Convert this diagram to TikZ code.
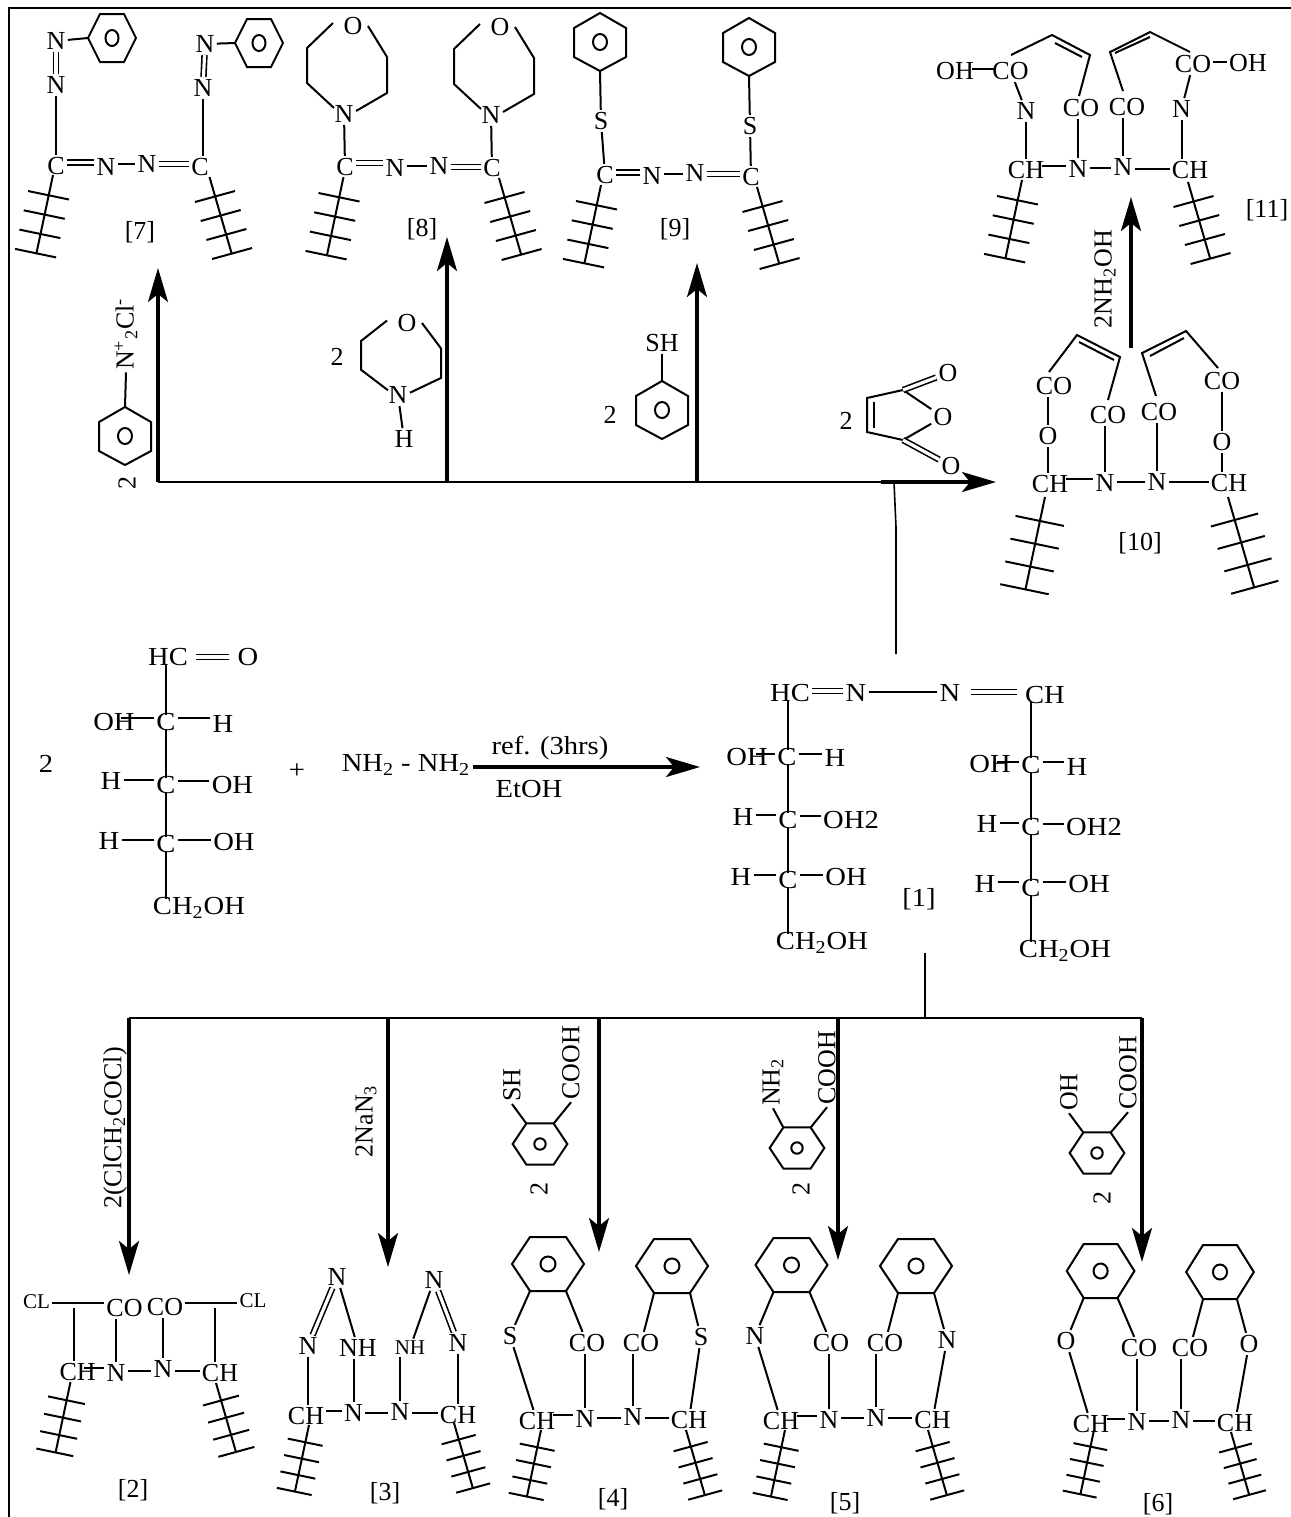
\documentclass[tikz,border=0pt]{standalone}
\usepackage{fontspec}
\setmainfont{Liberation Serif}
\newfontfamily\widefont[FakeStretch=1.1]{Liberation Serif}
\usetikzlibrary{arrows.meta}

\newcommand{\hb}[4][bond]{\draw[#1] (#2.east |- 0,#4) -- (#3.west |- 0,#4);}

\tikzset{
    atom/.style={inner sep=1pt,font=\fontsize{13}{15}\selectfont},
    wide/.style={inner sep=1pt,font=\widefont\fontsize{13}{15}\selectfont},
    small/.style={inner sep=1pt,font=\fontsize{10.5}{12}\selectfont},
    bond/.style={line width=1pt},
    vb/.style={line width=1pt,shorten <=-2pt,shorten >=-2pt},
    into/.style={line width=1pt,shorten <=-2pt},
    dbl/.style={line width=0.8pt,double,double distance=1.6pt},
    feed/.style={line width=1pt},
    react/.style={line width=1.6pt,-{Stealth[length=17pt,width=10pt,inset=4pt]}},
    chainleft/.pic={
        \draw[bond] (0,0) -- (-16.5,78);
        \foreach \i in {0,1,2,3} \draw[bond] ({-25-4.3*\i},{16+19.3*\i}) -- ++(41,8.5);
    },
    chainright/.pic={
        \draw[bond] (0,0) -- (22,76);
        \foreach \i in {0,1,2,3} \draw[bond] ({-14.5+5.7*\i},{25+19*\i}) -- ++(40,-11);
    },
    ringtop/.pic={
        \draw[bond] (-24,0) coordinate (l) -- (-12,-24) -- (12,-24) -- (24,0) -- (12,24) -- (-12,24) -- cycle;
        \draw[bond] (0,0) ellipse [x radius=6.5,y radius=8];
    },
    ringpoint/.pic={
        \draw[bond] (0,-29) coordinate (t) -- (26,-14) -- (26,15) -- (0,29) coordinate (b) -- (-26,15) -- (-26,-14) -- cycle;
        \draw[bond] (0,0) ellipse [x radius=7,y radius=8];
    },
    ringflat/.pic={
        \draw[bond] (-36,0) -- (-18,-27) -- (18,-27) -- (36,0) -- (18,27) coordinate (br) -- (-18,27) coordinate (bl) -- cycle;
        \draw[bond] (0,0) circle (7.5);
        \coordinate (tl) at (-18,-27);
        \coordinate (tr) at (18,-27);
    },
    morph/.pic={
        \node[atom] (O) at (0,0) {O};
        \node[atom] (N) at (-9,88) {N};
        \draw[bond] (-20,-3) -- (-46,22) -- (-46,57) -- (-19,82);
        \draw[bond] (15,0) -- (34,31) -- (34,67) -- (3,85);
    },
}

\begin{document}
\begin{tikzpicture}[x=0.5pt,y=-0.5pt]
    \useasboundingbox (0,0) rectangle (1291,1517);
    \draw[feed] (9,1517) -- (9,8) -- (1291,8);

    % compound 7
    \node[atom] (N7c) at (56,41) {N};
    \node[atom] (N7d) at (56,85) {N};
    \node[atom] (C7a) at (56,166) {C};
    \node[atom] (N7a) at (106,167) {N};
    \node[atom] (N7b) at (147,164) {N};
    \node[atom] (C7b) at (200,167) {C};
    \node[atom] (N7e) at (205,44) {N};
    \node[atom] (N7f) at (203,88) {N};
    \node[atom] (tag7) at (140,232) {[7]};
    \pic (r7a) at (112,38) {ringtop};
    \pic (r7b) at (259,43) {ringtop};
    \pic (c7a) at (53,175) {chainleft};
    \pic (c7b) at (209.5,177) {chainright};
    \draw[bond] (N7c) -- (r7al);
    \draw[dbl] (N7c) -- (N7d);
    \draw[bond] (N7d) -- (N7d |- C7a.north);
    \hb[dbl]{C7a}{N7a}{162.5}
    \hb{N7a}{N7b}{164}
    \hb[dbl]{N7b}{C7b}{164}
    \draw[bond] (N7e) -- (r7bl);
    \draw[dbl] (N7e) -- (N7f);
    \draw[bond] (N7f) -- (N7f |- C7b.north);

    % compound 8
    \pic (m8a) at (353,26) {morph};
    \pic (m8b) at (500,27) {morph};
    \node[atom] (C8a) at (345,167) {C};
    \node[atom] (N8a) at (395,168) {N};
    \node[atom] (N8b) at (439,166) {N};
    \node[atom] (C8b) at (492,168) {C};
    \node[atom] (tag8) at (422,229) {[8]};
    \pic (c8a) at (343.5,177) {chainleft};
    \pic (c8b) at (499,178) {chainright};
    \draw[bond] (m8aN) -- (C8a);
    \draw[bond] (m8bN) -- (C8b);
    \hb[dbl]{C8a}{N8a}{163}
    \hb{N8a}{N8b}{166}
    \hb[dbl]{N8b}{C8b}{167}

    % compound 9
    \pic (r9a) at (600,42) {ringpoint};
    \pic (r9b) at (749,47) {ringpoint};
    \node[atom] (S9a) at (601,121) {S};
    \node[atom] (S9b) at (750,126) {S};
    \node[atom] (C9a) at (605,175) {C};
    \node[atom] (N9a) at (652,176) {N};
    \node[atom] (N9b) at (695,173) {N};
    \node[atom] (C9b) at (751,177) {C};
    \node[atom] (tag9) at (675,229) {[9]};
    \pic (c9a) at (601,185) {chainleft};
    \pic (c9b) at (757,187) {chainright};
    \draw[bond] (r9ab) -- (S9a);
    \draw[bond] (r9bb) -- (S9b);
    \draw[bond] (S9a) -- (C9a);
    \draw[bond] (S9b) -- (C9b);
    \hb[dbl]{C9a}{N9a}{172.5}
    \hb{N9a}{N9b}{174}
    \hb[dbl]{N9b}{C9b}{174}

    % compound 11
    \node[atom] (OH11a) at (955,71) {OH};
    \node[atom] (CO11a) at (1010.5,71) {CO};
    \node[atom] (N11a) at (1026,111) {N};
    \node[atom] (CO11b) at (1081,108) {CO};
    \node[atom] (CO11c) at (1127,107) {CO};
    \node[atom] (N11d) at (1181.5,109) {N};
    \node[atom] (CO11d) at (1193,64) {CO};
    \node[atom] (OH11d) at (1248,63) {OH};
    \node[atom] (CH11a) at (1026,170) {CH};
    \node[atom] (N11b) at (1078,169) {N};
    \node[atom] (N11c) at (1123,167) {N};
    \node[atom] (CH11b) at (1190,170) {CH};
    \node[atom] (tag11) at (1267,210) {[11]};
    \pic (c11a) at (1022,180) {chainleft};
    \pic (c11b) at (1188,182) {chainright};
    \hb[vb]{OH11a}{CO11a}{69}
    \hb{CO11d}{OH11d}{62}
    \draw[bond] (CO11a) -- (N11a);
    \draw[bond] (CO11d) -- (N11d);
    \draw[bond] (N11a) -- (N11a |- CH11a.north);
    \draw[bond] (N11d) -- (N11d |- CH11b.north);
    \draw[bond] (N11b) -- (N11b |- CO11b.south);
    \draw[bond] (N11c) -- (N11c |- CO11c.south);
    \hb[into]{CH11a}{N11b}{166}
    \hb{N11b}{N11c}{168}
    \hb{N11c}{CH11b}{169}
    \draw[bond] (1011,55) -- (1052,35) -- (1090,55) -- (1079,96);
    \draw[bond] (1055,43) -- (1082,57);
    \draw[bond] (1190,52) -- (1150,32) -- (1110,52) -- (1123,91);
    \draw[bond] (1115,53) -- (1150,37);

    % compound 10
    \node[atom] (CO10a) at (1054,386) {CO};
    \node[atom] (O10a) at (1048,436) {O};
    \node[atom] (CO10b) at (1108,415) {CO};
    \node[atom] (CO10c) at (1159,412) {CO};
    \node[atom] (CO10d) at (1222,381) {CO};
    \node[atom] (O10d) at (1222,442) {O};
    \node[atom] (CH10a) at (1050,484) {CH};
    \node[atom] (N10a) at (1105,483) {N};
    \node[atom] (N10b) at (1157,482) {N};
    \node[atom] (CH10b) at (1229,483) {CH};
    \node[atom] (tag10) at (1140,543) {[10]};
    \pic[scale=1.18] (c10a) at (1045,497) {chainleft};
    \pic[scale=1.18] (c10b) at (1228,497) {chainright};
    \draw[bond] (CO10a.south -| O10a) -- (O10a);
    \draw[bond] (O10a) -- (O10a |- CH10a.north);
    \draw[bond] (CO10d.south -| O10d) -- (O10d);
    \draw[bond] (O10d) -- (O10d |- CH10b.north);
    \draw[bond] (N10a) -- (N10a |- CO10b.south);
    \draw[bond] (N10b) -- (N10b |- CO10c.south);
    \hb[into]{CH10a}{N10a}{479}
    \hb{N10a}{N10b}{482}
    \hb{N10b}{CH10b}{482}
    \draw[bond] (1049,372) -- (1077,335) -- (1120,357) -- (1108,400);
    \draw[bond] (1079,342) -- (1114,360);
    \draw[bond] (1218,368) -- (1186,331) -- (1142,353) -- (1156,396);
    \draw[bond] (1150,356) -- (1184,338);

    % reagents of the upper row
    \node[atom,rotate=90] (two7) at (127,483) {2};
    \pic (r7z) at (125,436) {ringpoint};
    \node[atom,rotate=90] (diazo) at (126,334) {N\textsuperscript{+}\textsubscript{2}Cl\textsuperscript{-}};
    \draw[bond] (r7zt) -- (diazo.west);
    \node[atom] (two8) at (337,357) {2};
    \pic[yscale=.82] (m8z) at (407,323) {morph};
    \node[atom] (H8) at (404,439) {H};
    \draw[bond] (m8zN) -- (H8);
    \node[atom] (two9) at (610,415) {2};
    \pic (r9z) at (662,410) {ringpoint};
    \node[atom] (SH9) at (662,343) {SH};
    \draw[bond] (r9zt) -- (SH9);
    \node[atom] (two10) at (846,421) {2};
    \node[atom] (O10x) at (948,373) {O};
    \node[atom] (O10y) at (943,417) {O};
    \node[atom] (O10z) at (951,466) {O};
    \coordinate (Ca10) at (903,390);
    \coordinate (Cb10) at (903,440);
    \draw[bond] (Ca10) -- (867,398) -- (867,432) -- (Cb10);
    \draw[bond] (874,402) -- (874,428);
    \draw[bond] (Ca10) -- (O10y);
    \draw[bond] (Cb10) -- (O10y);
    \draw[dbl] (Ca10) -- (O10x);
    \draw[dbl] (Cb10) -- (O10z);
    \node[atom,rotate=90] (NH2OH) at (1105,279) {2NH\textsubscript{2}OH};

    % arrows of the upper row
    \coordinate (j7) at (158,482);
    \coordinate (j8) at (447,482);
    \coordinate (j9) at (697,482);
    \coordinate (j10) at (881,482);
    \coordinate (t7) at (158,268);
    \coordinate (t8) at (447,237);
    \coordinate (t9) at (697,263);
    \coordinate (t10) at (996,482);
    \coordinate (b11) at (1131,348);
    \coordinate (t11) at (1131,197);
    \coordinate (u1) at (894,482);
    \coordinate (u2) at (896,527);
    \coordinate (u3) at (896,654);
    \draw[feed] (j7) -- (j10);
    \draw[react] (j7) -- (t7);
    \draw[react] (j8) -- (t8);
    \draw[react] (j9) -- (t9);
    \draw[react] (j10) -- (t10);
    \draw[react] (b11) -- (t11);
    \draw[feed,line width=0.8pt] (u1) -- (u2) -- (u3);

    % starting sugar
    \node[wide] (two0) at (46,764) {2};
    \node[wide] (HC0) at (168,657) {HC};
    \node[wide] (O0) at (248,657) {O};
    \node[wide] (OH0a) at (114,722) {OH};
    \node[wide] (C0a) at (166,722) {C};
    \node[wide] (H0a) at (223,724) {H};
    \node[wide] (H0b) at (111,781) {H};
    \node[wide] (C0b) at (166,785) {C};
    \node[wide] (OH0b) at (232.5,785) {OH};
    \node[wide] (H0c) at (109,841) {H};
    \node[wide] (C0c) at (166,844) {C};
    \node[wide] (OH0c) at (234,842) {OH};
    \node[wide] (CH0) at (199,908) {CH\textsubscript{2}OH};
    \hb[dbl,shorten <=3pt,shorten >=3pt]{HC0}{O0}{657}
    \draw[vb] (HC0.south -| C0a) -- (C0a);
    \draw[vb] (C0a) -- (C0b);
    \draw[vb] (C0b) -- (C0c);
    \draw[vb] (C0c) -- (C0c |- CH0.north);
    \hb[bond,shorten <=-8pt]{OH0a}{C0a}{718}
    \hb{C0a}{H0a}{718}
    \hb{H0b}{C0b}{780}
    \hb{C0b}{OH0b}{781}
    \hb{H0c}{C0c}{840}
    \hb{C0c}{OH0c}{840}

    % hydrazine and conditions
    \node[wide] (plus) at (297,771) {+};
    \node[wide] (NN) at (406,765) {NH\textsubscript{2} - NH\textsubscript{2}};
    \node[wide] (ref) at (550,748) {ref. (3hrs)};
    \node[wide] (EtOH) at (529,789) {EtOH};
    \coordinate (t1) at (700,767);
    \draw[react] (NN.east |- t1) -- (t1);

    % compound 1
    \node[wide] (HC1) at (790,693) {HC};
    \node[wide] (N1a) at (856,693) {N};
    \node[wide] (N1b) at (950,693) {N};
    \node[wide] (CH1) at (1045,695) {CH};
    \hb[dbl]{HC1}{N1a}{691}
    \hb{N1a}{N1b}{692}
    \hb[dbl,shorten <=4pt,shorten >=3pt]{N1b}{CH1}{692}
    \node[wide] (OH1a) at (747,757) {OH};
    \node[wide] (C1a) at (787,757) {C};
    \node[wide] (H1a) at (835,758) {H};
    \node[wide] (H1b) at (743,817) {H};
    \node[wide] (C1b) at (788,820) {C};
    \node[wide] (OH1b) at (851,820) {OH2};
    \node[wide] (H1c) at (741,877) {H};
    \node[wide] (C1c) at (788,880) {C};
    \node[wide] (OH1c) at (846,877) {OH};
    \node[wide] (CH1a) at (822,943) {CH\textsubscript{2}OH};
    \draw[vb] (HC1.south -| C1b) -- (C1b |- C1a.north);
    \draw[vb] (C1a.south -| C1b) -- (C1b);
    \draw[vb] (C1b) -- (C1c);
    \draw[vb] (C1c) -- (C1c |- CH1a.north);
    \hb[bond,shorten <=-7pt]{OH1a}{C1a}{754}
    \hb{C1a}{H1a}{754}
    \hb{H1b}{C1b}{815}
    \hb{C1b}{OH1b}{816}
    \hb{H1c}{C1c}{875}
    \hb{C1c}{OH1c}{875}
    \node[wide] (OH1d) at (990,764) {OH};
    \node[wide] (C1d) at (1031,765) {C};
    \node[wide] (H1d) at (1077,767) {H};
    \node[wide] (H1e) at (987,824) {H};
    \node[wide] (C1e) at (1031,827) {C};
    \node[wide] (OH1e) at (1094,827) {OH2};
    \node[wide] (H1f) at (985,884) {H};
    \node[wide] (C1f) at (1031,888) {C};
    \node[wide] (OH1f) at (1089,884) {OH};
    \node[wide] (CH1b) at (1065,951) {CH\textsubscript{2}OH};
    \node[wide] (tag1) at (919,899) {[1]};
    \draw[vb] (CH1.south -| C1d) -- (C1d);
    \draw[vb] (C1d) -- (C1e);
    \draw[vb] (C1e) -- (C1f);
    \draw[vb] (C1f) -- (C1f |- CH1b.north);
    \hb[bond,shorten <=-8pt]{OH1d}{C1d}{762}
    \hb{C1d}{H1d}{762}
    \hb{H1e}{C1e}{823}
    \hb{C1e}{OH1e}{824}
    \hb{H1f}{C1f}{882}
    \hb{C1f}{OH1f}{882}

    % arrows of the lower row
    \coordinate (d0) at (925,953);
    \coordinate (d1) at (925,1018);
    \coordinate (h2) at (129,1018);
    \coordinate (h3) at (388,1018);
    \coordinate (h4) at (599,1018);
    \coordinate (h5) at (838,1018);
    \coordinate (h6) at (1142,1018);
    \coordinate (t2) at (129,1275);
    \coordinate (t3) at (388,1267);
    \coordinate (t4) at (599,1252);
    \coordinate (t5) at (838,1260);
    \coordinate (t6) at (1142,1262);
    \draw[feed] (d0) -- (d1);
    \draw[feed] (h2) -- (h6);
    \draw[react] (h2) -- (t2);
    \draw[react] (h3) -- (t3);
    \draw[react] (h4) -- (t4);
    \draw[react] (h5) -- (t5);
    \draw[react] (h6) -- (t6);

    % reagents of the lower row
    \node[atom,rotate=90] (r2) at (115,1128) {2(ClCH\textsubscript{2}COCl)};
    \node[atom,rotate=90] (r3) at (366,1121) {2NaN\textsubscript{3}};
    \pic[scale=.76] (r4z) at (540,1144) {ringflat};
    \node[atom,rotate=90] (SH4) at (512,1085) {SH};
    \node[atom,rotate=90] (COOH4) at (571,1063) {COOH};
    \node[atom,rotate=90] (two4) at (539,1189) {2};
    \draw[bond] (r4ztl) -- (SH4.west);
    \draw[bond] (r4ztr) -- (COOH4.west);
    \pic[scale=.76] (r5z) at (797,1148) {ringflat};
    \node[atom,rotate=90] (NH5) at (773,1082) {NH\textsubscript{2}};
    \node[atom,rotate=90] (COOH5) at (827,1068) {COOH};
    \node[atom,rotate=90] (two5) at (801,1189) {2};
    \draw[bond] (r5ztl) -- (NH5.west);
    \draw[bond] (r5ztr) -- (COOH5.west);
    \pic[scale=.76] (r6z) at (1097,1153) {ringflat};
    \node[atom,rotate=90] (OH6) at (1069,1092) {OH};
    \node[atom,rotate=90] (COOH6) at (1128,1073) {COOH};
    \node[atom,rotate=90] (two6) at (1102,1198) {2};
    \draw[bond] (r6ztl) -- (OH6.west);
    \draw[bond] (r6ztr) -- (COOH6.west);

    % compound 2
    \node[small] (CL2a) at (36.5,1302) {CL};
    \node[atom] (CO2a) at (124.5,1308) {CO};
    \node[atom] (CO2b) at (165,1307) {CO};
    \node[small] (CL2b) at (253,1301) {CL};
    \node[atom] (CH2a) at (77.6,1372) {CH};
    \node[atom] (N2a) at (116,1373) {N};
    \node[atom] (N2b) at (163,1369) {N};
    \node[atom] (CH2b) at (220,1373) {CH};
    \node[atom] (tag2) at (133,1490) {[2]};
    \coordinate (x2a) at (73.5,1308);
    \coordinate (x2b) at (215,1308);
    \pic[scale=.9] (c2a) at (70.5,1382) {chainleft};
    \pic[scale=.9] (c2b) at (216,1383) {chainright};
    \hb{CL2a}{CO2a}{1303}
    \hb{CO2b}{CL2b}{1303}
    \draw[bond] (x2a) -- (x2a |- CH2a.north);
    \draw[bond] (x2b) -- (x2b |- CH2b.north);
    \draw[bond] (N2a) -- (N2a |- CO2a.south);
    \draw[bond] (N2b) -- (N2b |- CO2b.south);
    \hb[bond,shorten <=-7pt]{CH2a}{N2a}{1368}
    \hb{N2a}{N2b}{1371}
    \hb{N2b}{CH2b}{1371}

    % compound 3
    \node[atom] (N3a) at (337,1277) {N};
    \node[atom] (N3b) at (434,1280) {N};
    \node[atom] (N3c) at (308,1346) {N};
    \node[atom] (NH3a) at (358,1348) {NH};
    \node[small] (NH3b) at (410,1348) {NH};
    \node[atom] (N3d) at (458,1343) {N};
    \node[atom] (CH3a) at (306,1416) {CH};
    \node[atom] (N3e) at (353.5,1413) {N};
    \node[atom] (N3f) at (400,1412) {N};
    \node[atom] (CH3b) at (458,1415) {CH};
    \node[atom] (tag3) at (385,1493) {[3]};
    \pic[scale=.85] (c3a) at (309,1425) {chainleft};
    \pic[scale=.85] (c3b) at (454,1423) {chainright};
    \draw[dbl] (N3a) -- (N3c);
    \draw[bond] (N3a) -- (NH3a);
    \draw[bond] (N3b) -- (NH3b);
    \draw[dbl] (N3b) -- (N3d);
    \draw[bond] (N3c) -- (N3c |- CH3a.north);
    \draw[bond] (N3e) -- (N3e |- NH3a.south);
    \draw[bond] (N3f) -- (N3f |- NH3b.south);
    \draw[bond] (N3d) -- (CH3b);
    \hb{CH3a}{N3e}{1411}
    \hb{N3e}{N3f}{1413}
    \hb{N3f}{CH3b}{1413}

    % compound 4
    \pic (r4a) at (548,1264) {ringflat};
    \pic (r4b) at (672,1266) {ringflat};
    \node[atom] (S4a) at (510,1336) {S};
    \node[atom] (CO4a) at (587,1343) {CO};
    \node[atom] (CO4b) at (641,1343) {CO};
    \node[atom] (S4b) at (701,1337) {S};
    \node[atom] (CH4a) at (537,1421) {CH};
    \node[atom] (N4a) at (585,1419) {N};
    \node[atom] (N4b) at (633,1417) {N};
    \node[atom] (CH4b) at (689,1420) {CH};
    \node[atom] (tag4) at (613,1499) {[4]};
    \pic[scale=.85] (c4a) at (541,1430) {chainleft};
    \pic[scale=.85] (c4b) at (686,1430) {chainright};
    \draw[bond] (r4abl) -- (S4a);
    \draw[bond] (r4abr) -- (CO4a);
    \draw[bond] (r4bbl) -- (CO4b);
    \draw[bond] (r4bbr) -- (S4b);
    \draw[bond] (S4a) -- (CH4a);
    \draw[bond] (S4b) -- (CH4b);
    \draw[bond] (N4a) -- (N4a |- CO4a.south);
    \draw[bond] (N4b) -- (N4b |- CO4b.south);
    \hb[into]{CH4a}{N4a}{1415}
    \hb{N4a}{N4b}{1418}
    \hb{N4b}{CH4b}{1418}

    % compound 5
    \pic (r5a) at (791.5,1265) {ringflat};
    \pic (r5b) at (916,1266) {ringflat};
    \node[atom] (N5a) at (755,1336) {N};
    \node[atom] (CO5a) at (831,1343) {CO};
    \node[atom] (CO5b) at (885,1343) {CO};
    \node[atom] (N5b) at (947,1340) {N};
    \node[atom] (CH5a) at (781,1421) {CH};
    \node[atom] (N5c) at (829,1420) {N};
    \node[atom] (N5d) at (876,1418) {N};
    \node[atom] (CH5b) at (932.5,1420) {CH};
    \node[atom] (tag5) at (845,1503) {[5]};
    \pic[scale=.85] (c5a) at (785,1430) {chainleft};
    \pic[scale=.85] (c5b) at (928,1430) {chainright};
    \draw[bond] (r5abl) -- (N5a);
    \draw[bond] (r5abr) -- (CO5a);
    \draw[bond] (r5bbl) -- (CO5b);
    \draw[bond] (r5bbr) -- (N5b);
    \draw[bond] (N5a) -- (CH5a);
    \draw[bond] (N5b) -- (CH5b);
    \draw[bond] (N5c) -- (N5c |- CO5a.south);
    \draw[bond] (N5d) -- (N5d |- CO5b.south);
    \hb[into]{CH5a}{N5c}{1416}
    \hb{N5c}{N5d}{1418}
    \hb{N5d}{CH5b}{1418}

    % compound 6
    \pic[xscale=.94] (r6a) at (1100.6,1271) {ringflat};
    \pic[xscale=.94] (r6b) at (1220,1272) {ringflat};
    \node[atom] (O6a) at (1066,1341) {O};
    \node[atom] (CO6a) at (1139,1348) {CO};
    \node[atom] (CO6b) at (1190,1348) {CO};
    \node[atom] (O6b) at (1249,1344) {O};
    \node[atom] (CH6a) at (1091,1424) {CH};
    \node[atom] (N6a) at (1137,1422) {N};
    \node[atom] (N6b) at (1181,1420) {N};
    \node[atom] (CH6b) at (1235,1423) {CH};
    \node[atom] (tag6) at (1158,1504) {[6]};
    \pic[scale=.82] (c6a) at (1094,1430) {chainleft};
    \pic[scale=.82] (c6b) at (1231,1432) {chainright};
    \draw[bond] (r6abl) -- (O6a);
    \draw[bond] (r6abr) -- (CO6a);
    \draw[bond] (r6bbl) -- (CO6b);
    \draw[bond] (r6bbr) -- (O6b);
    \draw[bond] (O6a) -- (CH6a);
    \draw[bond] (O6b) -- (CH6b);
    \draw[bond] (N6a) -- (N6a |- CO6a.south);
    \draw[bond] (N6b) -- (N6b |- CO6b.south);
    \hb[into]{CH6a}{N6a}{1419}
    \hb{N6a}{N6b}{1421}
    \hb{N6b}{CH6b}{1421}

\end{tikzpicture}
\end{document}
